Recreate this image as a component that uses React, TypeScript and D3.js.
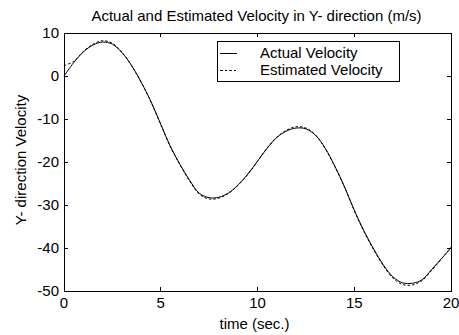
import React from "react";
import * as d3 from "d3";

const times = [0, 0.5, 1, 1.5, 2, 2.5, 3, 3.5, 4, 4.5, 5, 5.5, 6, 6.5, 7, 7.5, 8, 8.5, 9, 9.5, 10, 10.5, 11, 11.5, 12, 12.5, 13, 13.5, 14, 14.5, 15, 15.5, 16, 16.5, 17, 17.5, 18, 18.5, 19, 19.5, 20];
const actualVelocity = [0.0, 3.1, 5.6, 7.2, 7.9, 7.4, 5.4, 2.4, -1.5, -6.0, -11.2, -16.4, -20.6, -24.3, -27.3, -28.3, -28.2, -27.2, -25.3, -22.8, -19.8, -16.8, -14.3, -12.8, -12.1, -12.3, -13.8, -16.8, -21.0, -25.8, -31.2, -36.0, -40.2, -43.9, -46.7, -48.1, -48.2, -47.4, -45.0, -42.5, -40.0];
const estimatedVelocity = [2.4, 3.4, 5.7, 7.4, 8.2, 7.6, 5.5, 2.3, -1.6, -6.1, -11.3, -16.5, -20.7, -24.5, -27.5, -28.6, -28.4, -27.3, -25.4, -22.9, -19.9, -16.7, -14.2, -12.6, -11.8, -12.1, -13.7, -16.9, -21.1, -25.9, -31.3, -36.2, -40.4, -44.1, -47.0, -48.5, -48.6, -47.6, -45.2, -42.6, -39.8];
const xTicks = [0, 5, 10, 15, 20];
const yTicks = [10, 0, -10, -20, -30, -40, -50];
const legendLabels = ["Actual Velocity", "Estimated Velocity"];
const titleText = "Actual and Estimated Velocity in Y- direction (m/s)";
const xLabel = "time (sec.)";
const yLabel = "Y- direction Velocity";

export default function App() {
  const W = 459, H = 335;
  const left = 64, right = 451, top = 33, bottom = 291;
  const x = d3.scaleLinear().domain([0, 20]).range([left, right]);
  const y = d3.scaleLinear().domain([-50, 10]).range([bottom, top]);
  const line = d3
    .line<number>()
    .x((_, i) => x(times[i]))
    .y((d) => y(d))
    .curve(d3.curveCatmullRom);
  const font = "'Liberation Sans', Arial, sans-serif";
  const fs = 15;
  const tick = 4;
  const lg = { x0: 217, y0: 41, x1: 399, y1: 81 };
  const rows = [53, 70];
  return (
    <svg
      width={W}
      height={H}
      style={{ position: "absolute", left: 0, top: 0, background: "#fff" }}
      fontFamily={font}
      fontSize={fs}
    >
      <rect x={0} y={0} width={W} height={H} fill="#fff" />
      <text x={(left + right) / 2 - 1} y={21} textAnchor="middle" fill="#000">
        {titleText}
      </text>
      <path d={line(actualVelocity) || ""} fill="none" stroke="#000" strokeWidth={1} />
      <path
        d={line(estimatedVelocity) || ""}
        fill="none"
        stroke="#000"
        strokeWidth={1}
        strokeDasharray="2.5,2"
      />
      <g shapeRendering="crispEdges" stroke="#000" strokeWidth={1}>
        <rect x={left} y={top} width={right - left} height={bottom - top} fill="none" />
        {xTicks.map((t) => (
          <g key={"xt" + t}>
            <line x1={x(t)} x2={x(t)} y1={bottom} y2={bottom - tick} />
            <line x1={x(t)} x2={x(t)} y1={top} y2={top + tick} />
          </g>
        ))}
        {yTicks.map((t) => (
          <g key={"yt" + t}>
            <line x1={left} x2={left + tick} y1={y(t)} y2={y(t)} />
            <line x1={right} x2={right - tick} y1={y(t)} y2={y(t)} />
          </g>
        ))}
      </g>
      {xTicks.map((t) => (
        <text key={"xl" + t} x={x(t)} y={308} textAnchor="middle" fill="#000">
          {t}
        </text>
      ))}
      {yTicks.map((t) => (
        <text key={"yl" + t} x={59} y={y(t) + 5} textAnchor="end" fill="#000">
          {t}
        </text>
      ))}
      <text x={(left + right) / 2 - 3} y={329} textAnchor="middle" fill="#000">
        {xLabel}
      </text>
      <text
        transform={`translate(26,${(top + bottom) / 2 - 2}) rotate(-90)`}
        textAnchor="middle"
        fill="#000"
      >
        {yLabel}
      </text>
      <g>
        <rect
          x={lg.x0}
          y={lg.y0}
          width={lg.x1 - lg.x0}
          height={lg.y1 - lg.y0}
          fill="#fff"
          stroke="#000"
          shapeRendering="crispEdges"
        />
        <line x1={220} x2={237} y1={rows[0]} y2={rows[0]} stroke="#000" shapeRendering="crispEdges" />
        <line
          x1={220}
          x2={237}
          y1={rows[1]}
          y2={rows[1]}
          stroke="#000"
          strokeDasharray="2.5,2"
          shapeRendering="crispEdges"
        />
        {legendLabels.map((l, i) => (
          <text key={l} x={260} y={rows[i] + 5} fill="#000">
            {l}
          </text>
        ))}
      </g>
    </svg>
  );
}
